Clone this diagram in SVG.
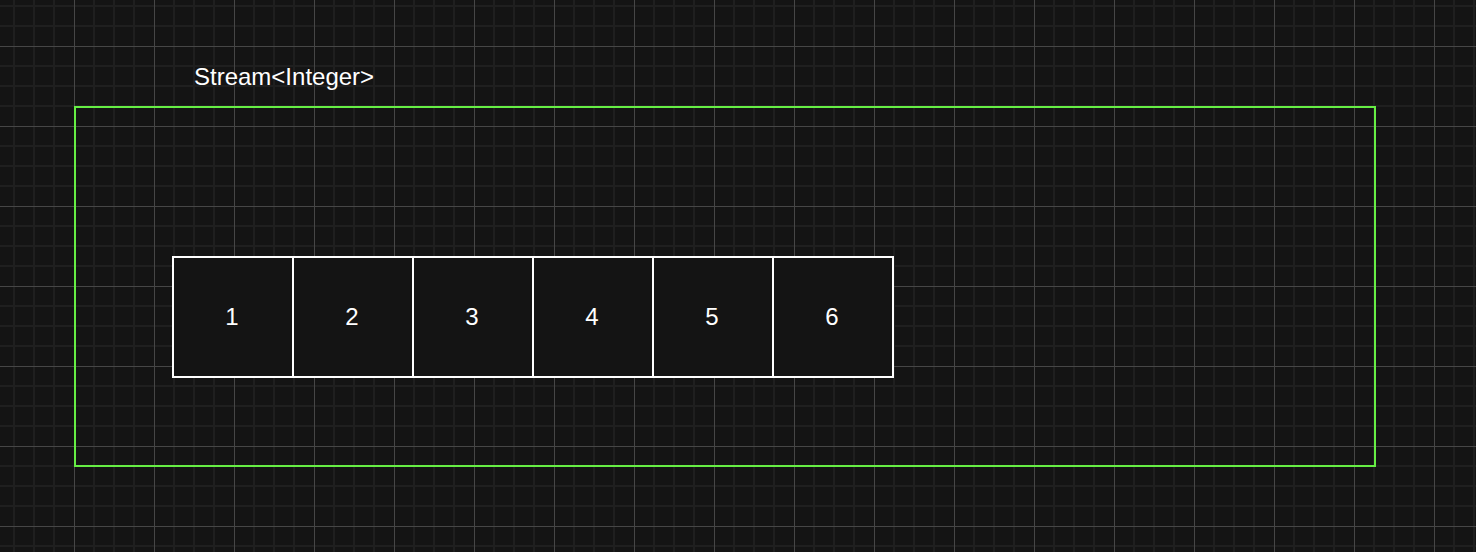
<svg xmlns="http://www.w3.org/2000/svg" width="1476" height="552" viewBox="0 0 1476 552">
<style>
.cell{fill:#141414;stroke:#ffffff;stroke-width:2}
.num{font-family:"Liberation Sans",Arial,sans-serif;font-size:24px;fill:#ffffff;text-anchor:middle}
.title{font-family:"Liberation Sans",Arial,sans-serif;font-size:24px;fill:#ffffff}
</style>
<defs>
<pattern id="grid" patternUnits="userSpaceOnUse" x="74" y="46" width="80" height="80">
<rect x="0" y="0" width="80" height="80" fill="#141414"/>
<rect x="19" y="0" width="2" height="80" fill="#1f1f1f"/>
<rect x="39" y="0" width="2" height="80" fill="#1f1f1f"/>
<rect x="59" y="0" width="2" height="80" fill="#1f1f1f"/>
<rect x="0" y="19" width="80" height="2" fill="#1f1f1f"/>
<rect x="0" y="39" width="80" height="2" fill="#1f1f1f"/>
<rect x="0" y="59" width="80" height="2" fill="#1f1f1f"/>
<rect x="0" y="0" width="1" height="80" fill="#464646"/>
<rect x="0" y="0" width="80" height="1" fill="#464646"/>
</pattern>
</defs>
<rect x="0" y="0" width="1476" height="552" fill="url(#grid)"/>
<g id="stream-container">
<rect x="75" y="107" width="1300" height="359" fill="none" stroke="#66ee44" stroke-width="2"/>
<text class="title" x="194" y="85">Stream&lt;Integer&gt;</text>
</g>
<g id="cell-1"><rect class="cell" x="173" y="257" width="120" height="120"/><text class="num" x="232" y="325">1</text></g>
<g id="cell-2"><rect class="cell" x="293" y="257" width="120" height="120"/><text class="num" x="352" y="325">2</text></g>
<g id="cell-3"><rect class="cell" x="413" y="257" width="120" height="120"/><text class="num" x="472" y="325">3</text></g>
<g id="cell-4"><rect class="cell" x="533" y="257" width="120" height="120"/><text class="num" x="592" y="325">4</text></g>
<g id="cell-5"><rect class="cell" x="653" y="257" width="120" height="120"/><text class="num" x="712" y="325">5</text></g>
<g id="cell-6"><rect class="cell" x="773" y="257" width="120" height="120"/><text class="num" x="832" y="325">6</text></g>
<g id="connectors"/>
</svg>
